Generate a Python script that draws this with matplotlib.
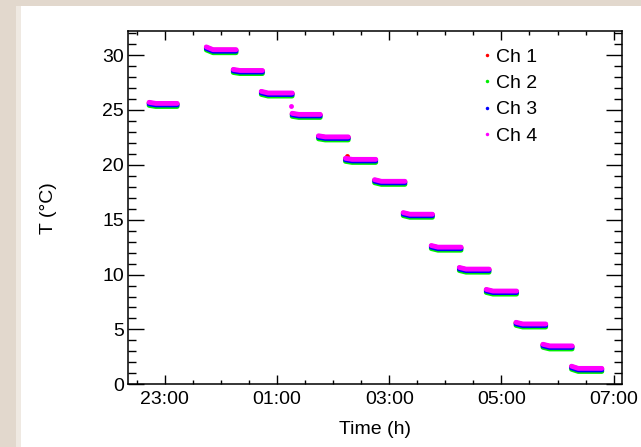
import matplotlib
matplotlib.use("Agg")
import matplotlib.pyplot as plt
from matplotlib.lines import Line2D
from matplotlib.patches import Rectangle
from matplotlib.ticker import MultipleLocator, FixedLocator

plt.rcParams['font.family'] = ['Liberation Sans', 'DejaVu Sans']

# ---- data (hours relative to midnight; 23:00 = -1) ----
seg_start = [-1.28, -0.26, 0.22, 0.72, 1.27, 1.74, 2.22, 2.74, 3.25, 3.75, 4.25, 4.73, 5.26, 5.74, 6.25]
seg_end   = [-0.78, 0.27, 0.74, 1.27, 1.77, 2.27, 2.76, 3.28, 3.77, 4.28, 4.78, 5.27, 5.79, 6.26, 6.79]
seg_level = [25.6, 30.5, 28.6, 26.55, 24.6, 22.55, 20.5, 18.5, 15.5, 12.5, 10.5, 8.5, 5.5, 3.5, 1.45]
seg_peak  = [25.7, 30.75, 28.7, 26.7, 24.7, 22.65, 20.6, 18.65, 15.65, 12.65, 10.65, 8.65, 5.65, 3.65, 1.65]
settle_time = 0.12

channels   = ["Ch 1", "Ch 2", "Ch 3", "Ch 4"]
ch_offset  = [-0.05, -0.28, -0.14, 0.0]
ch_colors  = ["#ff0000", "#00ee00", "#0000ff", "#ff00ff"]
draw_order = [0, 1, 2, 3]

# isolated points
extra_ch   = [3, 0]
extra_time = [1.244, 2.253]
extra_temp = [25.35, 20.82]

xtick_vals   = [-1, 1, 3, 5, 7]
xtick_labels = ["23:00", "01:00", "03:00", "05:00", "07:00"]

W, H = 641, 447
fig = plt.figure(figsize=(W / 100, H / 100), dpi=100)
fig.patch.set_facecolor("#e2d8cd")
fig.add_artist(Rectangle((16 / W, 0), 5 / W, (H - 6) / H, transform=fig.transFigure,
                         facecolor="#efe9e2", edgecolor="none", zorder=-10))
fig.add_artist(Rectangle((21 / W, 0), 1 - 21 / W, (H - 6) / H, transform=fig.transFigure,
                         facecolor="white", edgecolor="none", zorder=-10))

ax = fig.add_axes([128.4 / W, (H - 384.3) / H, (622.3 - 128.4) / W, (384.3 - 31) / H])
ax.set_facecolor("white")
ax.set_zorder(1)

lw = 3.5
for ci in draw_order:
    for s, e, lv, pk in zip(seg_start, seg_end, seg_level, seg_peak):
        xs = [s, s + settle_time, e]
        ys = [pk + ch_offset[ci], lv + ch_offset[ci], lv + ch_offset[ci]]
        ax.plot(xs, ys, color=ch_colors[ci], lw=lw, solid_capstyle="round",
                solid_joinstyle="round", zorder=2 + ci)
for ci, t, v in zip(extra_ch, extra_time, extra_temp):
    ax.plot([t], [v], "o", color=ch_colors[ci], ms=3.5, mec="none", zorder=2 + ci)

ax.set_xlim(-1.649, 7.155)
ax.set_ylim(0, 32.2)
ax.xaxis.set_major_locator(FixedLocator(xtick_vals))
ax.set_xticklabels(xtick_labels)
ax.xaxis.set_minor_locator(MultipleLocator(0.5))
ax.yaxis.set_major_locator(MultipleLocator(5))
ax.yaxis.set_minor_locator(MultipleLocator(1))

ax.tick_params(axis="both", which="both", direction="in", top=True, right=True,
               color="black", width=1.0, labelsize=14)
ax.tick_params(axis="y", which="major", length=11.5, pad=3)
ax.tick_params(axis="y", which="minor", length=5.8)
ax.tick_params(axis="x", which="major", length=6.5, pad=5)
ax.tick_params(axis="x", which="minor", length=3.2)
for sp in ax.spines.values():
    sp.set_linewidth(1.1)
    sp.set_color("black")

ax.set_xlabel("Time (h)", fontsize=14, labelpad=9)
ax.set_ylabel("T (°C)", fontsize=14, labelpad=33)

handles = [Line2D([], [], ls="none", marker="o", ms=2.5, mec="none", color=c) for c in ch_colors]
leg = ax.legend(handles, channels, loc="upper left",
                bbox_to_anchor=(482.2 / W, (H - 48) / H), bbox_transform=fig.transFigure,
                frameon=False, fontsize=14, handlelength=0.47, handletextpad=0.25,
                labelspacing=0.45, borderpad=0, borderaxespad=0)

fig.savefig("out.png", dpi=100, facecolor=fig.get_facecolor())
